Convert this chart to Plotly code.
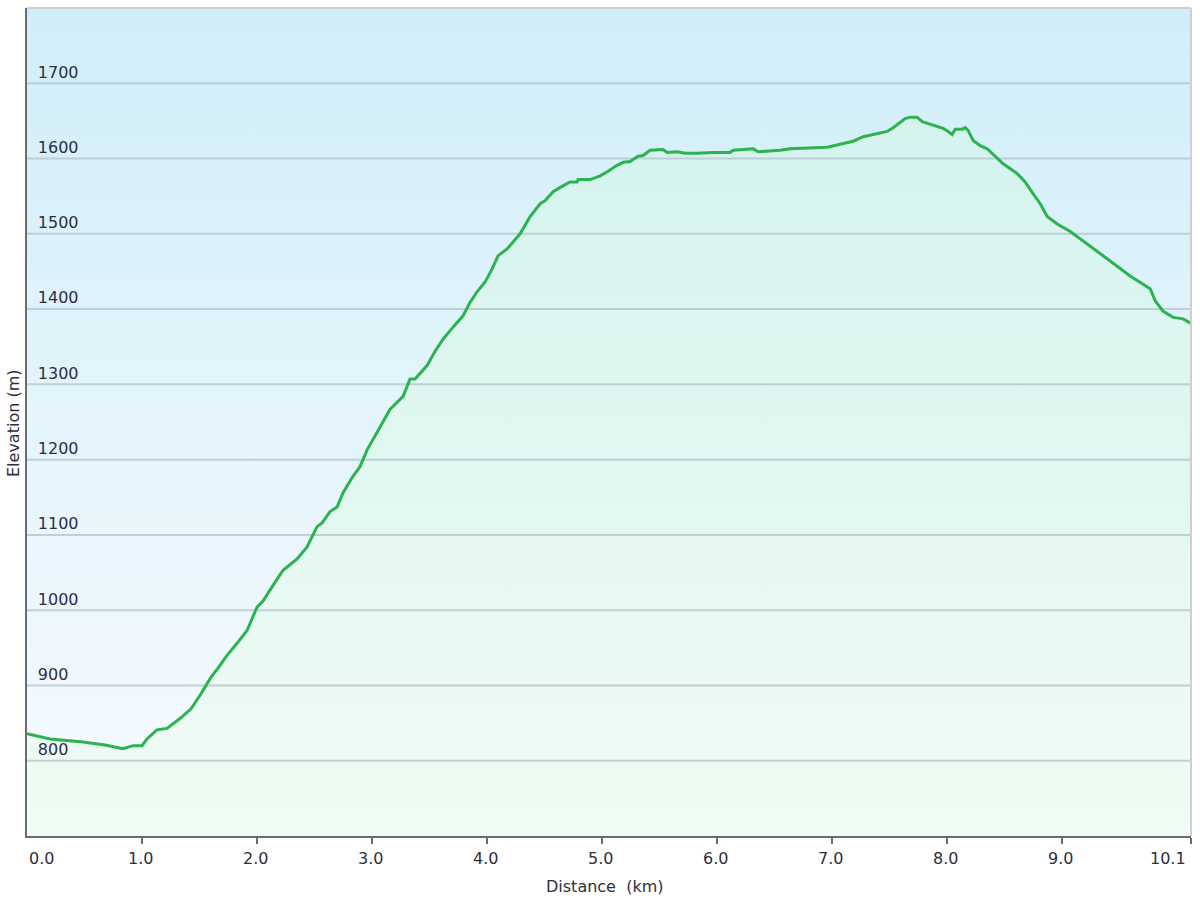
import plotly.graph_objects as go

# ---- data ----
distance_km = [
    0.000, 0.200, 0.487, 0.678, 0.835, 0.922, 1.000, 1.043, 1.130, 1.217,
    1.330, 1.426, 1.513, 1.600, 1.661, 1.739, 1.826, 1.913, 2.000, 2.052,
    2.139, 2.226, 2.348, 2.435, 2.522, 2.565, 2.635, 2.696, 2.748, 2.826,
    2.896, 2.957, 3.043, 3.096, 3.157, 3.270, 3.330, 3.374, 3.478, 3.548,
    3.617, 3.704, 3.791, 3.852, 3.913, 3.983, 4.043, 4.096, 4.174, 4.226,
    4.287, 4.374, 4.461, 4.504, 4.574, 4.652, 4.722, 4.783, 4.791, 4.896,
    4.983, 5.052, 5.130, 5.183, 5.243, 5.313, 5.357, 5.417, 5.504, 5.530,
    5.565, 5.652, 5.722, 5.826, 5.965, 6.113, 6.139, 6.226, 6.313, 6.357,
    6.548, 6.635, 6.957, 7.070, 7.183, 7.270, 7.357, 7.478, 7.530, 7.635,
    7.678, 7.739, 7.783, 7.878, 7.965, 8.009, 8.043, 8.070, 8.130, 8.157,
    8.183, 8.226, 8.287, 8.348, 8.461, 8.487, 8.609, 8.678, 8.748, 8.809,
    8.870, 8.957, 9.070, 9.243, 9.417, 9.591, 9.765, 9.809, 9.878, 9.965,
    10.052, 10.120,
]
elevation_m = [
    836, 829, 825, 821, 816, 820, 820, 829, 841, 843,
    856, 869, 889, 911, 923, 940, 956, 973, 1004, 1012,
    1033, 1053, 1068, 1084, 1111, 1116, 1131, 1137, 1156, 1176,
    1191, 1213, 1236, 1251, 1267, 1284, 1307, 1307, 1325, 1344,
    1360, 1376, 1391, 1409, 1423, 1436, 1453, 1471, 1480, 1489,
    1500, 1523, 1540, 1544, 1556, 1563, 1569, 1569, 1572, 1572,
    1577, 1583, 1591, 1595, 1596, 1603, 1604, 1611, 1612, 1612,
    1608, 1609, 1607, 1607, 1608, 1608, 1611, 1612, 1613, 1609,
    1611, 1613, 1615, 1619, 1623, 1629, 1632, 1636, 1641, 1653,
    1655, 1655, 1649, 1644, 1640, 1636, 1632, 1639, 1639, 1641,
    1637, 1624, 1617, 1613, 1597, 1593, 1580, 1569, 1553, 1540,
    1523, 1513, 1503, 1484, 1464, 1444, 1427, 1411, 1397, 1389,
    1387, 1381,
]
y_ticks = [800, 900, 1000, 1100, 1200, 1300, 1400, 1500, 1600, 1700]
x_ticks = [0.0, 1.0, 2.0, 3.0, 4.0, 5.0, 6.0, 7.0, 8.0, 9.0, 10.12]
x_tick_labels = ["0.0", "1.0", "2.0", "3.0", "4.0", "5.0", "6.0", "7.0", "8.0", "9.0", "10.1"]
x_title = "Distance\u00a0 (km)"
y_title = "Elevation (m)"

Y_MIN, Y_MAX = 700, 1800
X_MIN, X_MAX = 0.0, distance_km[-1]

FONT = "DejaVu Sans, Verdana, sans-serif"
TEXT_COLOR = "#2e2e40"
AXIS_COLOR = "#6c6c6c"

fig = go.Figure()

# background gradient of the plot area
fig.add_trace(go.Scatter(
    x=[X_MIN, X_MAX, X_MAX, X_MIN, X_MIN],
    y=[Y_MIN, Y_MIN, Y_MAX, Y_MAX, Y_MIN],
    mode="none", fill="toself",
    fillgradient=dict(type="vertical", start=Y_MIN, stop=Y_MAX,
                      colorscale=[[0, "#f8fbff"], [1, "#d0eef9"]]),
    hoverinfo="skip", showlegend=False,
))

# green area under the profile
fig.add_trace(go.Scatter(
    x=distance_km, y=elevation_m, mode="none", fill="tozeroy",
    fillgradient=dict(type="vertical", start=Y_MIN, stop=Y_MAX,
                      colorscale=[[0, "#f0fcf4"], [1, "#d0f2ee"]]),
    hoverinfo="skip", showlegend=False,
))

# horizontal grid lines (above the fills)
gx, gy = [], []
for v in y_ticks:
    gx += [X_MIN, X_MAX, None]
    gy += [v, v, None]
fig.add_trace(go.Scatter(
    x=gx, y=gy, mode="lines",
    line=dict(color="rgba(185,200,207,0.85)", width=2),
    hoverinfo="skip", showlegend=False,
))

# elevation profile line
fig.add_trace(go.Scatter(
    x=distance_km, y=elevation_m, mode="lines",
    line=dict(color="#2cb24e", width=3, shape="linear"),
    name="Elevation", showlegend=False,
))

annotations = []
for i, (v, t) in enumerate(zip(x_ticks, x_tick_labels)):
    anchor = "center"
    if i == 0:
        anchor = "left"
    elif i == len(x_ticks) - 1:
        anchor = "right"
    annotations.append(dict(
        x=v, y=0, xref="x", yref="paper", text=t, showarrow=False,
        xanchor=anchor, yanchor="middle", yshift=-22,
        xshift=(-2 if anchor == "center" else (-3 if anchor == "right" else 0)),
        font=dict(family=FONT, size=16, color=TEXT_COLOR),
    ))
# axis titles
annotations.append(dict(
    x=0.5, y=0, xref="paper", yref="paper", text=x_title, showarrow=False,
    xanchor="center", yanchor="middle", yshift=-50, xshift=-5,
    font=dict(family=FONT, size=16, color=TEXT_COLOR),
))
annotations.append(dict(
    x=0, y=0.5, xref="paper", yref="paper", text=y_title, showarrow=False,
    textangle=-90, xanchor="center", yanchor="middle", xshift=-14, yshift=-2,
    font=dict(family=FONT, size=16, color=TEXT_COLOR),
))

fig.update_layout(
    width=1200, height=900,
    margin=dict(l=27, r=9, t=8, b=64, autoexpand=False),
    paper_bgcolor="white", plot_bgcolor="white",
    showlegend=False,
    annotations=annotations,
    font=dict(family=FONT, size=16, color=TEXT_COLOR),
    shapes=[
        dict(type="line", xref="paper", yref="paper", x0=0, x1=1, y0=1, y1=1,
             line=dict(color="#cfcfcf", width=2)),
        dict(type="line", xref="paper", yref="paper", x0=1, x1=1, y0=0, y1=1,
             line=dict(color="#cfcfcf", width=2)),
    ],
)

fig.update_xaxes(
    range=[X_MIN, X_MAX], showgrid=False, zeroline=False, automargin=False,
    showline=True, linecolor=AXIS_COLOR, linewidth=2,
    ticks="outside", ticklen=6, tickwidth=2, tickcolor=AXIS_COLOR,
    tickvals=x_ticks, showticklabels=False,
)
fig.update_yaxes(
    range=[Y_MIN, Y_MAX], showgrid=False, zeroline=False, automargin=False,
    showline=True, linecolor=AXIS_COLOR, linewidth=2,
    ticks="", tickvals=y_ticks, ticklabelposition="inside top",
    ticklabelstandoff=10,
    tickfont=dict(family=FONT, size=16, color=TEXT_COLOR),
)

fig.write_html(
    "out.html",
    config={"displayModeBar": False},
    post_script="document.body.style.margin='0';document.body.style.overflow='hidden';",
)
